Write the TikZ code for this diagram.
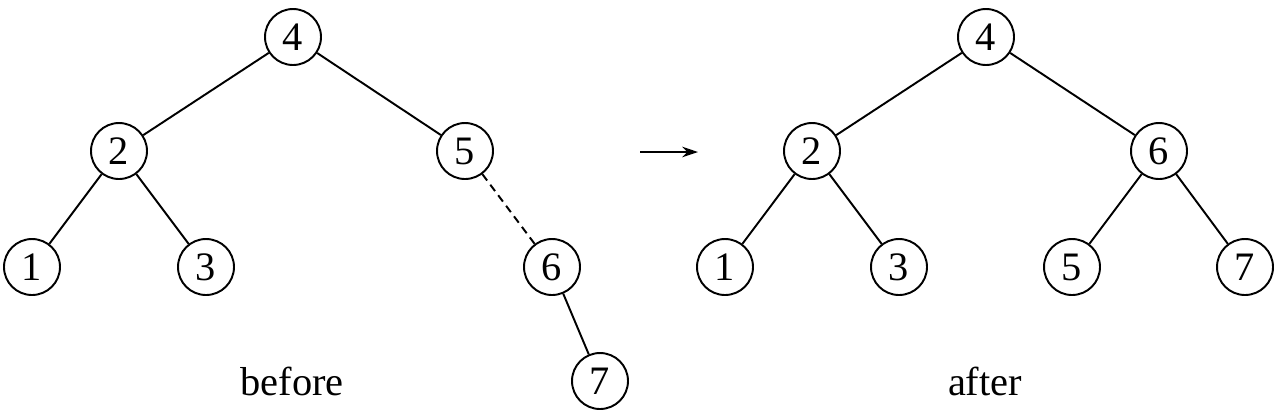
\documentclass[tikz,border=0pt]{standalone}
\usepackage{fontspec}
\setmainfont{Liberation Serif}
\usetikzlibrary{arrows.meta, positioning, calc}

\tikzset{
  key/.style={draw, circle, line width=1.1pt, minimum size=1.12cm, inner sep=0pt, font=\fontsize{23}{27}\selectfont},
  edge/.style={line width=1.1pt},
  caption/.style={font=\fontsize{23}{27}\selectfont}
}

\begin{document}
\begin{tikzpicture}[x=0.02cm, y=-0.02cm]
\useasboundingbox (0,0) rectangle (1284,414);
% before
\node[key] (b4) at (293,37) {4};
\node[key] (b2) at (119,151) {2};
\node[key] (b5) at (465,151) {5};
\node[key] (b1) at (32,267) {1};
\node[key] (b3) at (206,267) {3};
\node[key] (b6) at (552,267) {6};
\node[key] (b7) at (600,381) {7};
\node[caption] (before) at (292,381) {before};

\draw[edge] (b4) -- (b2);
\draw[edge] (b4) -- (b5);
\draw[edge] (b2) -- (b1);
\draw[edge] (b2) -- (b3);
\draw[edge, dash pattern=on 4.5pt off 3pt] (b5) -- (b6);
\draw[edge] (b6) -- (b7);

% rotation
\coordinate (from) at (640,152);
\coordinate (to) at (698,152);
\draw[edge, -{Stealth[length=9pt, width=6pt]}] (from) -- (to);

% after
\node[key] (a4) at (986,37) {4};
\node[key] (a2) at (812,151) {2};
\node[key] (a6) at (1159,151) {6};
\node[key] (a1) at (725,267) {1};
\node[key] (a3) at (899,267) {3};
\node[key] (a5) at (1072,267) {5};
\node[key] (a7) at (1245,267) {7};
\node[caption] (after) at (985,381) {after};

\draw[edge] (a4) -- (a2);
\draw[edge] (a4) -- (a6);
\draw[edge] (a2) -- (a1);
\draw[edge] (a2) -- (a3);
\draw[edge] (a6) -- (a5);
\draw[edge] (a6) -- (a7);
\end{tikzpicture}
\end{document}
